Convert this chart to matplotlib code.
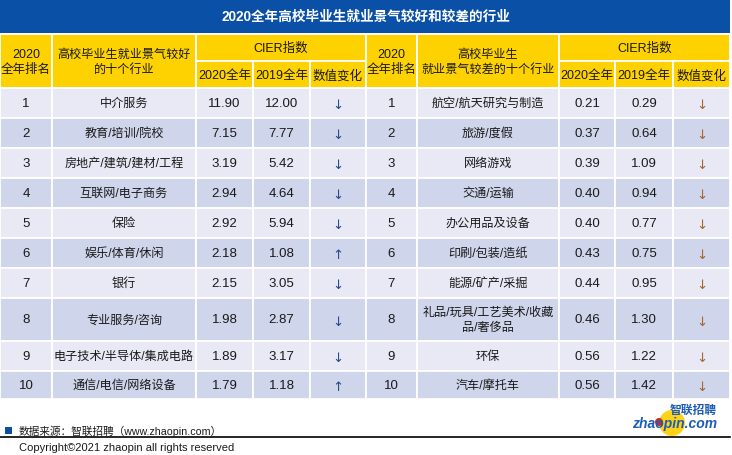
import matplotlib
matplotlib.use("Agg")
import matplotlib.pyplot as plt
from matplotlib.patches import Rectangle, Circle

plt.rcParams['font.family'] = ['Liberation Sans', 'Noto Sans CJK SC', 'DejaVu Sans']

# ---------------- data ----------------
title = "2020全年高校毕业生就业景气较好和较差的行业"
ranks = [1, 2, 3, 4, 5, 6, 7, 8, 9, 10]
good_industries = ['中介服务', '教育/培训/院校', '房地产/建筑/建材/工程', '互联网/电子商务', '保险',
                   '娱乐/体育/休闲', '银行', '专业服务/咨询', '电子技术/半导体/集成电路', '通信/电信/网络设备']
good_2020 = [11.90, 7.15, 3.19, 2.94, 2.92, 2.18, 2.15, 1.98, 1.89, 1.79]
good_2019 = [12.00, 7.77, 5.42, 4.64, 5.94, 1.08, 3.05, 2.87, 3.17, 1.18]
bad_industries = ['航空/航天研究与制造', '旅游/度假', '网络游戏', '交通/运输', '办公用品及设备',
                  '印刷/包装/造纸', '能源/矿产/采掘', '礼品/玩具/工艺美术/收藏\n品/奢侈品', '环保', '汽车/摩托车']
bad_2020 = [0.21, 0.37, 0.39, 0.40, 0.40, 0.43, 0.44, 0.46, 0.56, 0.56]
bad_2019 = [0.29, 0.64, 1.09, 0.94, 0.77, 0.75, 0.95, 1.30, 1.22, 1.42]
header_rank = "2020\n全年排名"
header_good = "高校毕业生就业景气较好\n的十个行业"
header_bad = "高校毕业生\n就业景气较差的十个行业"
header_cier = "CIER指数"
sub_headers = ["2020全年", "2019全年", "数值变化"]
source_text = "数据来源：智联招聘（www.zhaopin.com）"
copyright_text = "Copyright©2021 zhaopin all rights reserved"

# ---------------- style / layout ----------------
BLUE = '#0A50A6'
YELLOW = '#FDD200'
LIGHT = '#E8E9F5'
DARK = '#CFD5EA'
TXT = '#1A1A1A'
FS = 8.7      # CJK text
FSN = 9.5     # numbers

fig = plt.figure(figsize=(7.32, 4.56), dpi=100)
ax = fig.add_axes([0, 0, 1, 1])
ax.set_xlim(0, 732)
ax.set_ylim(456, 0)
ax.axis('off')

left_edges = [0, 52, 196, 253, 310, 366]
right_edges = [366, 417, 559, 615, 673, 730]
row_heights = [30, 30, 30, 30, 30, 30, 30, 43, 30, 28]
row_top0 = 89
hdr_top, hdr_mid, hdr_bot = 34.5, 61.5, 89


def cell(x0, x1, y0, y1, color):
    ax.add_patch(Rectangle((x0, y0), x1 - x0, y1 - y0, facecolor=color,
                           edgecolor='white', linewidth=1.3))


# title bar
ax.add_patch(Rectangle((0, 0), 730, 33.5, facecolor=BLUE, edgecolor='none'))
ax.text(366, 17, title, color='white', fontsize=9.8, fontweight='bold',
        ha='center', va='center')


def draw_table(edges, industries, v2020, v2019, header_ind, arrow_color):
    # header
    cell(edges[0], edges[1], hdr_top, hdr_bot, YELLOW)
    cell(edges[1], edges[2], hdr_top, hdr_bot, YELLOW)
    cell(edges[2], edges[5], hdr_top, hdr_mid, YELLOW)
    for j in range(3):
        cell(edges[2 + j], edges[3 + j], hdr_mid, hdr_bot, YELLOW)
    ax.text((edges[0] + edges[1]) / 2, 62.5, header_rank, ha='center', va='center',
            fontsize=FS + 0.3, color=TXT, linespacing=1.3)
    ax.text((edges[1] + edges[2]) / 2, 62.5, header_ind, ha='center', va='center',
            fontsize=FS, color=TXT, linespacing=1.35)
    ax.text((edges[2] + edges[5]) / 2, 48.5, header_cier, ha='center', va='center',
            fontsize=FS + 0.3, color=TXT)
    for j, s in enumerate(sub_headers):
        ax.text((edges[2 + j] + edges[3 + j]) / 2, 76, s, ha='center', va='center',
                fontsize=FS + 0.3, color=TXT)
    # rows
    y = row_top0
    for i, h in enumerate(row_heights):
        color = LIGHT if i % 2 == 0 else DARK
        for j in range(5):
            cell(edges[j], edges[j + 1], y, y + h, color)
        yc = y + h / 2
        ax.text((edges[0] + edges[1]) / 2, yc, str(ranks[i]), ha='center', va='center',
                fontsize=FSN, color=TXT)
        ax.text((edges[1] + edges[2]) / 2, yc, industries[i], ha='center', va='center',
                fontsize=FS, color=TXT, linespacing=1.35)
        ax.text((edges[2] + edges[3]) / 2, yc, f"{v2020[i]:.2f}", ha='center', va='center',
                fontsize=FSN, color=TXT)
        ax.text((edges[3] + edges[4]) / 2, yc, f"{v2019[i]:.2f}", ha='center', va='center',
                fontsize=FSN, color=TXT)
        arrow = '↓' if v2020[i] < v2019[i] else '↑'
        ax.text((edges[4] + edges[5]) / 2, yc + 2, arrow, ha='center', va='center',
                fontsize=FS + 0.8, color=arrow_color, family=['DejaVu Sans'])
        y += h


draw_table(left_edges, good_industries, good_2020, good_2019, header_good, '#2B4A8E')
draw_table(right_edges, bad_industries, bad_2020, bad_2019, header_bad, '#A8652E')

# footer
ax.add_patch(Rectangle((5, 428), 7, 7, facecolor='#0A4FA3', edgecolor='none'))
ax.text(19, 431, source_text, fontsize=7.7, color=TXT, ha='left', va='center')
ax.plot([0, 730], [438, 438], color='black', linewidth=1.2)
ax.text(19, 448, copyright_text, fontsize=8.0, color=TXT, ha='left', va='center')

# logo
ax.add_patch(Circle((672, 424), 13, facecolor='#FFD21A', edgecolor='none'))
ax.add_patch(Circle((659, 423), 4, facecolor='#D22B1E', edgecolor='none'))
ax.text(693, 411, '智联招聘', fontsize=8.5, color='#1E5DB6', fontweight='bold',
        style='italic', ha='center', va='center')
ax.text(675, 424, 'zhaopin.com', fontsize=10, color='#1E5DB6', fontweight='bold',
        style='italic', ha='center', va='center')

fig.savefig('out.png', dpi=100)
